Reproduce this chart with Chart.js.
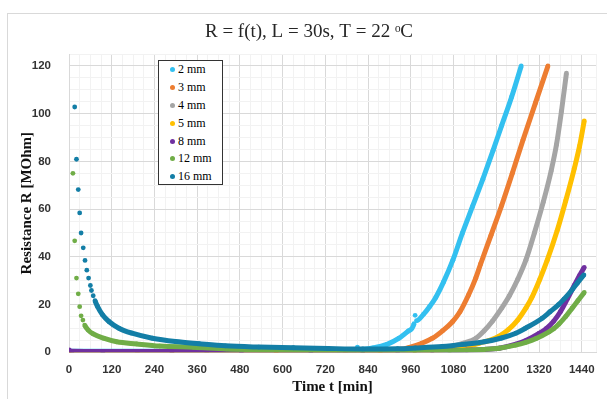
<!DOCTYPE html>
<html>
<head>
<meta charset="utf-8">
<script src="https://cdn.jsdelivr.net/npm/chart.js@4.4.0/dist/chart.umd.min.js"></script>
<style>
  html, body { margin: 0; padding: 0; background: #fff; }
  #wrap { position: relative; width: 607px; height: 399px; overflow: hidden; }
  #frame { position: absolute; left: 7px; top: 13px; width: 700px; height: 500px;
           border-left: 1px solid #d9d9d9; border-top: 1px solid #d9d9d9; }
  #chart { position: absolute; left: 0; top: 0; }
  #legend { position: absolute; left: 158px; top: 60px; width: 65px; height: 125px;
            box-sizing: border-box; border: 1px solid #333; background: #fff;
            font: 12px "Liberation Serif", serif; color: #000; }
  .item { display: flex; align-items: center; height: 17.8px; }
  .dot { width: 5px; height: 5px; border-radius: 50%; margin-left: 11px; }
  .lbl { margin-left: 3px; }
</style>
</head>
<body>
<div id="wrap">
  <div id="frame"></div>
  <canvas id="chart" width="607" height="399"></canvas>
  <div id="legend"></div>
</div>
<script>
const chartTitle = 'R = f(t), L = 30s, T = 22 \u1D52C';
const seriesNames = ['2 mm', '3 mm', '4 mm', '5 mm', '8 mm', '12 mm', '16 mm'];
const seriesColors = ['#33c0f0', '#ed7d31', '#a5a5a5', '#ffc000', '#7030a0', '#70ad47', '#137ea6'];

// time [min] / resistance [MOhm]
const t2 = [0, 95, 192, 289, 387, 484, 582, 679, 757, 806, 810, 813, 854, 893, 927, 952, 969, 972, 976, 996, 1013, 1030, 1052, 1078, 1105, 1133, 1162, 1191, 1215, 1243, 1270];
const r2 = [0.4, 0.4, 0.4, 0.4, 0.4, 0.4, 0.5, 0.6, 0.7, 0.9, 2.2, 1.0, 1.8, 3.3, 5.9, 8.8, 12.0, 15.5, 13.3, 16.0, 19.2, 23.0, 29.5, 38.6, 50, 61, 72.5, 84.6, 95, 107, 120];

const t3 = [0, 192, 387, 582, 776, 874, 932, 956, 991, 1021, 1049, 1077, 1098, 1122, 1142, 1156, 1185, 1215, 1245, 1275, 1310, 1345];
const r3 = [0.3, 0.3, 0.3, 0.3, 0.4, 0.6, 1.3, 2.1, 3.8, 5.9, 9.0, 12.8, 17.0, 24.0, 31.0, 37.0, 49, 61.5, 75, 89, 104.5, 120];

const t4 = [0, 192, 387, 582, 776, 874, 971, 1020, 1068, 1108, 1143, 1166, 1189, 1215, 1236, 1260, 1283, 1307, 1332, 1354, 1369, 1383, 1397];
const r4 = [0.2, 0.2, 0.2, 0.2, 0.3, 0.4, 0.9, 1.4, 2.3, 3.8, 5.9, 9.0, 13.0, 18.5, 23.5, 30.5, 38.6, 50, 63, 76, 87, 101, 117];

const t5 = [0, 289, 582, 874, 971, 1069, 1117, 1152, 1181, 1208, 1234, 1260, 1283, 1300, 1322, 1343, 1371, 1395, 1419, 1434, 1447];
const r5 = [0.0, 0.1, 0.1, 0.2, 0.5, 1.3, 2.2, 3.8, 5.0, 6.8, 9.5, 13.5, 18.5, 23.0, 30.5, 38.6, 51, 63.5, 77, 86.5, 97];

const t8 = [0, 8, 95, 289, 484, 679, 825, 923, 1020, 1117, 1166, 1208, 1255, 1283, 1320, 1341, 1361, 1380, 1400, 1419, 1434, 1447];
const r8 = [1.0, 0.4, 0.3, 0.3, 0.3, 0.3, 0.3, 0.4, 0.6, 0.9, 1.2, 1.7, 3.4, 4.9, 7.9, 10.0, 13.0, 17.0, 22.5, 28.0, 32.2, 35.6];

const t12 = [11, 16, 21, 26, 30, 34, 39, 44, 54, 68, 97, 134, 190, 255, 349, 442, 536, 679, 825, 971, 1069, 1166, 1208, 1254, 1283, 1312, 1348, 1361, 1376, 1395, 1413, 1429, 1447];
const r12 = [75.0, 46.7, 31.1, 24.5, 19.1, 15.3, 13.5, 11.4, 9.3, 7.7, 5.9, 4.4, 3.5, 2.6, 2.1, 1.4, 1.1, 0.9, 0.7, 0.6, 0.7, 1.2, 1.7, 3.0, 4.2, 5.8, 8.6, 9.9, 11.9, 15.0, 18.5, 21.6, 25.1];

const t16 = [16, 21, 26, 30, 34, 40, 45, 50, 55, 60, 63, 68, 73, 80, 94, 112, 140, 177, 234, 299, 365, 439, 533, 630, 728, 825, 923, 973, 1048, 1113, 1166, 1215, 1255, 1282, 1329, 1351, 1375, 1390, 1412, 1429, 1446];
const r16 = [102.8, 80.9, 68.2, 58.4, 50.0, 43.8, 38.5, 34.4, 31.1, 28.0, 25.9, 23.7, 21.6, 19.2, 15.7, 12.9, 10.1, 8.0, 5.9, 4.5, 3.6, 2.7, 2.2, 1.9, 1.6, 1.4, 1.5, 1.8, 2.4, 3.4, 4.4, 6.0, 8.0, 10.1, 14.3, 17.0, 20.0, 22.3, 26.0, 29.3, 32.4];

const times = [t2, t3, t4, t5, t8, t12, t16];
const values = [r2, r3, r4, r5, r8, r12, r16];

const xTicksEvery = 120;
const yTicksEvery = 20;

const datasets = seriesNames.map((name, i) => {
  const col = seriesColors[i];
  return {
    label: name,
    data: times[i].map((t, k) => ({ x: t, y: values[i][k] })),
    showLine: true,
    borderColor: col,
    backgroundColor: col,
    borderWidth: 5,
    cubicInterpolationMode: 'monotone',
    pointRadius: 2.4,
    pointBorderWidth: 0,
    pointBackgroundColor: col,
    order: seriesNames.length - i, // 16 mm on top, like the original
    segment: {
      // closely spaced samples stay as separate dots
      borderColor: c => (c.p1.parsed.x - c.p0.parsed.x < 6.5 ? 'rgba(0,0,0,0)' : col),
    },
  };
});

const gridColor = major => ctx => (ctx.tick && ctx.tick.value % major === 0 ? '#d9d9d9' : '#f2f2f2');
const tickFont = { family: 'Liberation Sans', size: 11.5, weight: 'bold' };
const axisTitleFont = { family: 'Liberation Serif', size: 15, weight: 'bold' };

const titlePlugin = {
  id: 'topTitle',
  afterDraw(chart) {
    const c = chart.ctx;
    c.save();
    c.font = '19px "Liberation Serif"';
    c.fillStyle = '#262626';
    c.textAlign = 'center';
    c.textBaseline = 'alphabetic';
    c.fillText(chartTitle, 309, 36.5);
    c.restore();
  },
};

new Chart(document.getElementById('chart'), {
  type: 'scatter',
  data: { datasets },
  options: {
    responsive: false,
    animation: false,
    layout: { padding: { top: 54, right: 10, left: 0, bottom: 0 } },
    plugins: {
      legend: { display: false },
      tooltip: { enabled: false },
    },
    scales: {
      x: {
        type: 'linear',
        min: 0,
        max: 1480,
        afterFit: s => { s.height = 46.7; },
        ticks: {
          stepSize: 30,
          autoSkip: false,
          maxRotation: 0,
          padding: 11,
          color: '#333',
          font: tickFont,
          callback: v => (v % xTicksEvery === 0 ? v : ''),
        },
        grid: { color: gridColor(xTicksEvery), drawTicks: false },
        border: { color: '#d9d9d9' },
        title: {
          display: true,
          text: 'Time t [min]',
          color: '#111',
          font: axisTitleFont,
          padding: { top: 0, bottom: 3 },
        },
      },
      y: {
        min: 0,
        max: 125,
        afterFit: s => { s.width = 69; },
        ticks: {
          stepSize: 5,
          autoSkip: false,
          padding: 18,
          color: '#333',
          font: tickFont,
          callback: v => (v % yTicksEvery === 0 ? v : ''),
        },
        grid: { color: gridColor(yTicksEvery), drawTicks: false },
        border: { color: '#d9d9d9' },
        title: {
          display: true,
          text: 'Resistance R [MOhm]',
          color: '#111',
          font: axisTitleFont,
          padding: { top: 18.5, bottom: 0 },
        },
      },
    },
  },
  plugins: [titlePlugin],
});

// legend box inside the plot, as in the original
const legend = document.getElementById('legend');
seriesNames.forEach((name, i) => {
  const row = document.createElement('div');
  row.className = 'item';
  row.innerHTML = '<span class="dot" style="background:' + seriesColors[i] + '"></span><span class="lbl">' + name + '</span>';
  legend.appendChild(row);
});
</script>
</body>
</html>
